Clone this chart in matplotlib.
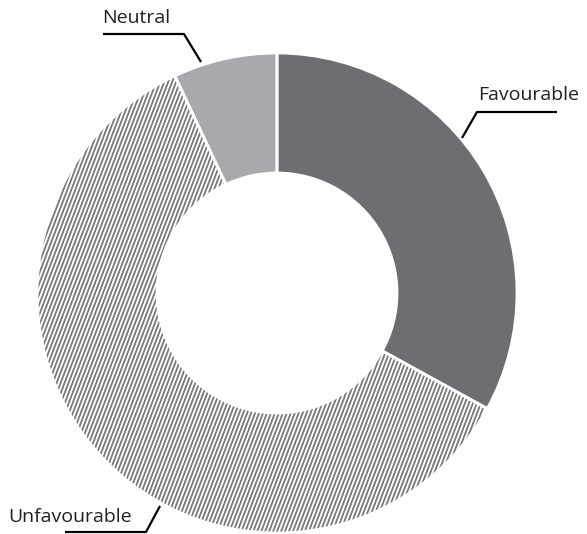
import numpy as np
import matplotlib.pyplot as plt
from matplotlib.collections import LineCollection
from matplotlib.patches import Wedge

plt.rcParams['font.family'] = ['Open Sans', 'DejaVu Sans']

labels = ['Favourable', 'Unfavourable', 'Neutral']
shares = [33, 60, 7]
colors = ['#6d6e71', 'white', '#a7a9ac']

W, H = 587, 534
fig = plt.figure(figsize=(W / 100, H / 100), dpi=100)
ax = fig.add_axes([0, 0, 1, 1])

cx, cy, R = 277, H - 293, 240
wedges, _ = ax.pie(shares, colors=colors, startangle=90, counterclock=False,
                   center=(cx, cy), radius=R,
                   wedgeprops=dict(width=R * 0.5, edgecolor='none'))
for w in wedges:
    w.set_zorder(1)

# diagonal stripes for the unfavourable slice
ang = np.deg2rad(69)
d = np.array([np.cos(ang), np.sin(ang)])
n = np.array([-d[1], d[0]])
segs = []
for off in np.arange(-400, 400, 3.7):
    p = np.array([cx, cy]) + n * off
    segs.append([p - d * 400, p + d * 400])
lc = LineCollection(segs, colors='#77787b', linewidths=1.3, zorder=1.5)
ax.add_collection(lc)
lc.set_clip_path(wedges[1])

# white separators between slices
for w in wedges:
    ax.add_patch(Wedge(w.center, w.r, w.theta1, w.theta2, width=w.width,
                       fill=False, edgecolor='white', linewidth=2, zorder=2))

# leader lines and labels (pixel coords, y measured from top)
def px(x, y):
    return x, H - y

line_kw = dict(color='black', linewidth=1.6, solid_capstyle='butt')
ax.plot(*zip(px(103, 34), px(184, 34), px(201, 62)), **line_kw)
ax.plot(*zip(px(462, 138), px(477, 112), px(557, 112)), **line_kw)
ax.plot(*zip(px(65, 532), px(146, 532), px(160, 506)), **line_kw)

txt_kw = dict(fontsize=14, color='#231f20')
ax.text(*px(102, 23), 'Neutral', ha='left', va='baseline', **txt_kw)
ax.text(*px(478, 100), 'Favourable', ha='left', va='baseline', **txt_kw)
ax.text(*px(8, 522), 'Unfavourable', ha='left', va='baseline', **txt_kw)

ax.set_xlim(0, W)
ax.set_ylim(0, H)
ax.set_aspect('auto')
ax.axis('off')

fig.savefig('out.png', dpi=100)
